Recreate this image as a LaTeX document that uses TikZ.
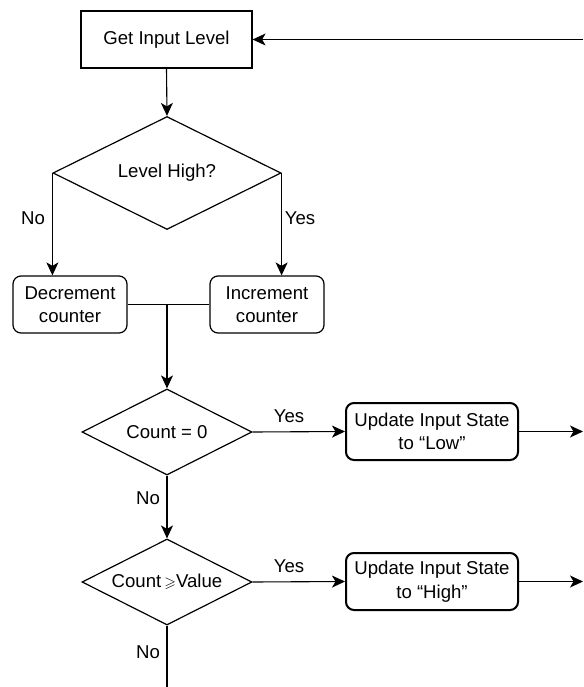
\documentclass[tikz,border=0pt]{standalone}
\usepackage{amssymb}
\usepackage{fontspec}
\setmainfont{Liberation Sans}
\usetikzlibrary{arrows.meta,shapes.geometric}
\begin{document}
\begin{tikzpicture}[x=1pt,y=-1pt,
  font=\fontsize{18.6}{23.5}\selectfont,
  plain/.style={draw, line width=1.2pt, inner sep=0pt, align=center},
  sqbox/.style={plain, minimum width=171pt, minimum height=57pt},
  rbox/.style={plain, rounded corners=8pt, minimum width=114pt, minimum height=57pt},
  ubox/.style={plain, line width=2pt, rounded corners=8pt, minimum width=172pt, minimum height=57pt},
  dia/.style={plain, diamond, shape aspect=2},
  conn/.style={line width=1.1pt, -{Stealth[length=13pt,width=12pt,inset=3.5pt]}},
  seg/.style={line width=1.1pt},
  lab/.style={inner sep=0pt}]
\useasboundingbox (0,0) rectangle (583,687);

\node[sqbox] (get) at (166.5,39.5) {Get Input Level};
\node[dia, minimum width=228pt, minimum height=113pt] (lh) at (167,173) {Level High?};
\node[rbox] (dec) at (70,304.5) {Decrement\\counter};
\node[rbox] (inc) at (267,304.5) {Increment\\counter};
\node[dia, minimum width=170pt, minimum height=86pt] (c0) at (167,432) {Count = 0};
\node[ubox] (low) at (432,431.5) {Update Input State\\to “Low”};
\node[dia, minimum width=170pt, minimum height=86pt] (cv) at (167,582) {Count\,{\fontsize{15}{15}\selectfont$\geqslant$}Value};
\node[ubox] (high) at (432,581.5) {Update Input State\\to “High”};

\node[lab] (lno) at (33,218) {No};
\node[lab] (lyes) at (300,218) {Yes};
\node[lab] (c0yes) at (289,416) {Yes};
\node[lab] (c0no) at (148,498) {No};
\node[lab] (cvyes) at (289,566) {Yes};
\node[lab] (cvno) at (148,652) {No};

\coordinate (tr) at (583,39.5);
\coordinate (lowout) at (583,431.5);
\coordinate (highout) at (583,581.5);
\coordinate (bot) at (167,687);

\draw[conn] (tr) -- (get.east);
\draw[conn] (get.south) -- (lh.north);
\draw[conn] (lh.west) -- (lh.west |- dec.north);
\draw[conn] (lh.east) -- (lh.east |- inc.north);
\draw[seg] (dec.east) -- (inc.west);
\draw[conn] (dec.east -| c0.north) -- (c0.north);
\draw[conn] (c0.east) -- (low.west);
\draw[conn] (low.east) -- (lowout);
\draw[conn] (c0.south) -- (cv.north);
\draw[conn] (cv.east) -- (high.west);
\draw[conn] (high.east) -- (highout);
\draw[seg] (cv.south) -- (bot);
\end{tikzpicture}
\end{document}
